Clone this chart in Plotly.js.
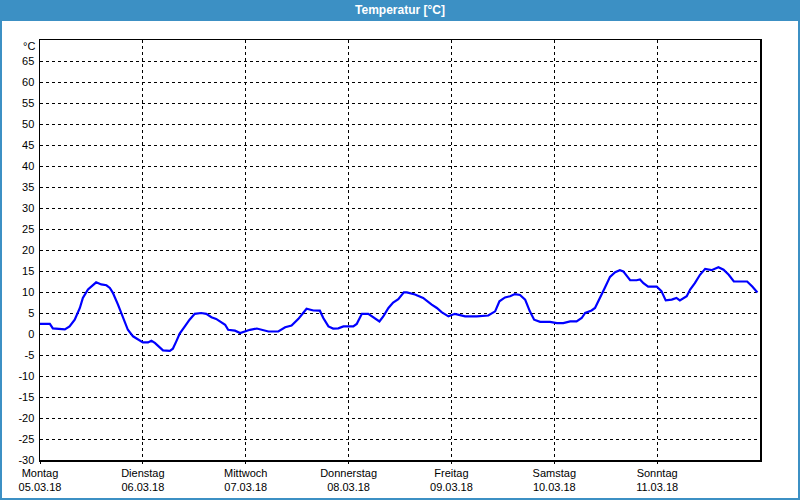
<!DOCTYPE html>
<html>
<head>
<meta charset="utf-8">
<script src="https://cdn.plot.ly/plotly-3.0.1.min.js"></script>
<style>
html,body{margin:0;padding:0;background:#fff;}
#chart{width:800px;height:500px;}
</style>
</head>
<body>
<div id="chart"></div>
<script>
// hours since Montag 05.03.18 00:00
const hours = [0, 2.3, 3, 4.6, 5.8, 6.9, 8.1, 9.3, 10, 11.2, 12.4, 13.1, 14.3, 15.5, 16.3, 17, 18.2, 19, 19.8, 20.5, 21.7, 22.9,
  24, 25.2, 26, 26.8, 27.9, 28.7, 30.3, 31, 31.8, 32.6, 33.8, 34.9, 36.1, 37.6, 38.8, 40, 41.1, 42.3,
  43.2, 43.9, 45.5, 46.7, 47.8, 49, 50.6, 51.7, 53.3, 55.6, 57.2, 58.7, 60.3, 61.4, 62.2, 63.8, 65.3, 66.1, 67.3, 68.4, 69.6, 70.8,
  73.1, 73.9, 75.1, 76.6, 77.8, 79.2, 80.1, 81.3, 82.4, 83.6, 84.9, 85.6, 87.5, 89.4, 91.4, 92.6, 93.7, 95.3,
  96.8, 99.2, 101.9, 104.6, 106.2, 107.2, 108.5, 109.7, 110.8, 112, 113.2, 114.3, 115.3, 116.7, 119,
  120.6, 122.1, 123.7, 125.2, 126.4, 127.2, 128.7, 129.5, 130.7, 131.8, 133, 134.2, 135.3, 136.1, 137.7, 139.2, 140, 140.8, 141.9, 143.9,
  145, 146, 147.4, 148.5, 149.3, 150.9, 151.7, 152.8, 154, 155.2, 156.7, 158.3, 159.5, 160.7, 161.9, 165, 166.2, 167.4];
const temps = [2.4, 2.4, 1.35, 1.3, 1.1, 1.8, 3.4, 6.2, 8.6, 10.6, 11.7, 12.3, 11.8, 11.6, 10.95, 9.8, 7.0, 5.0, 2.6, 1.0, -0.55, -1.35,
  -2.0, -2.0, -1.6, -2.1, -3.1, -3.9, -4.0, -3.5, -1.75, 0.1, 1.8, 3.4, 4.8, 5.0, 4.8, 4.0, 3.6, 2.8,
  2.2, 1.0, 0.8, 0.25, 0.6, 1.0, 1.3, 1.0, 0.6, 0.6, 1.6, 2.0, 3.6, 5.0, 6.0, 5.6, 5.55, 3.8, 1.8, 1.3, 1.35, 1.8,
  1.8, 2.4, 4.8, 4.8, 4.0, 3.0, 4.2, 6.2, 7.5, 8.3, 9.9, 9.9, 9.4, 8.6, 7.0, 6.2, 5.2, 4.2,
  4.8, 4.2, 4.2, 4.4, 5.4, 7.8, 8.7, 9.0, 9.5, 9.3, 8.2, 5.4, 3.4, 2.9, 2.9,
  2.6, 2.6, 3.0, 3.0, 3.8, 5.0, 5.6, 6.2, 8.6, 11.0, 13.6, 14.7, 15.2, 14.9, 12.8, 12.8, 13.0, 12.1, 11.3, 11.3,
  10.2, 8.0, 8.2, 8.6, 8.0, 9.0, 10.6, 12.1, 14.1, 15.5, 15.2, 15.9, 15.3, 14.1, 12.5, 12.5, 11.3, 9.9];
const dayTicks = [0, 24, 48, 72, 96, 120, 144];
const dayNames = ["Montag", "Dienstag", "Mittwoch", "Donnerstag", "Freitag", "Samstag", "Sonntag"];
const dayDates = ["05.03.18", "06.03.18", "07.03.18", "08.03.18", "09.03.18", "10.03.18", "11.03.18"];
const yTicks = [-30, -25, -20, -15, -10, -5, 0, 5, 10, 15, 20, 25, 30, 35, 40, 45, 50, 55, 60, 65];
const titleText = "Temperatur [°C]";
const unitLabel = "°C";

const font = {family: "Liberation Sans, Arial, sans-serif", size: 11, color: "#000"};
const L = 40, R = 40, T = 40, B = 40, W = 800, H = 500;
const pw = W - L - R, ph = H - T - B;
const px = v => (v - L) / pw;          // pixel -> paper x
const py = v => (H - B - v) / ph;      // pixel -> paper y

const trace = {
  x: hours, y: temps, type: "scatter", mode: "lines",
  line: {color: "#0000ff", width: 2.2}, hoverinfo: "skip"
};

const layout = {
  width: W, height: H,
  margin: {l: L, r: R, t: T, b: B, pad: 0},
  paper_bgcolor: "#ffffff", plot_bgcolor: "#ffffff",
  showlegend: false,
  font: font,
  title: {text: "<b>" + titleText + "</b>", x: 0.5, xref: "paper", xanchor: "center",
          y: 1 - 10 / H, yref: "container", yanchor: "middle",
          font: {family: "Liberation Sans, Arial, sans-serif", size: 12, color: "#ffffff"}},
  xaxis: {
    range: [0, 168], tickmode: "array", tickvals: dayTicks,
    ticktext: dayNames.map((d, i) => d + "<br>" + dayDates[i]),
    showgrid: true, gridcolor: "#000", griddash: "3px,3px", gridwidth: 1,
    showline: true, linecolor: "#000", linewidth: 1.5, mirror: true,
    ticks: "outside", ticklen: 2, tickcolor: "#000",
    zeroline: false, tickfont: font, fixedrange: true
  },
  yaxis: {
    range: [-30, 70], tickmode: "array", tickvals: yTicks,
    ticktext: yTicks.map(String),
    showgrid: true, gridcolor: "#000", griddash: "3px,3px", gridwidth: 1,
    showline: true, linecolor: "#000", linewidth: 1.5, mirror: true,
    ticks: "", ticklabelstandoff: 2,
    zeroline: false, tickfont: font, fixedrange: true
  },
  shapes: [
    {type: "rect", xref: "paper", yref: "paper", layer: "below",
     x0: px(0), x1: px(W), y0: py(0), y1: py(20),
     fillcolor: "#3c90c4", line: {width: 0}},
    {type: "rect", xref: "paper", yref: "paper", layer: "above",
     x0: px(1), x1: px(W - 1), y0: py(20), y1: py(H - 1),
     fillcolor: "rgba(0,0,0,0)", line: {color: "#3c90c4", width: 2}}
  ],
  annotations: [
    {text: unitLabel, xref: "paper", yref: "paper", x: px(37), y: py(46),
     xanchor: "right", yanchor: "middle", showarrow: false, font: font}
  ]
};

Plotly.newPlot("chart", [trace], layout, {staticPlot: true, displayModeBar: false});
</script>
</body>
</html>
